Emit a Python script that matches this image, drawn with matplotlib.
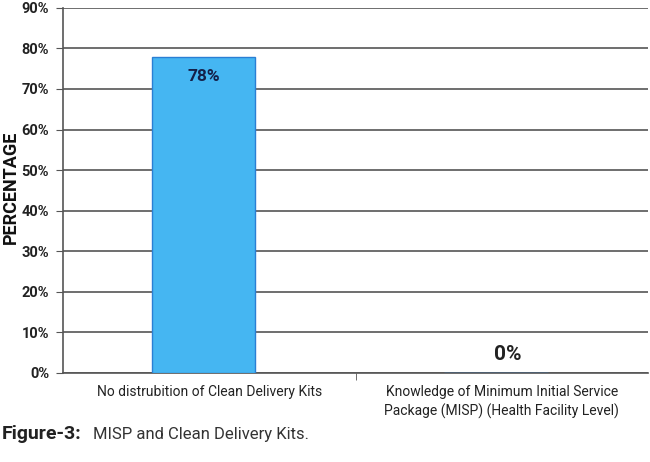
import matplotlib
matplotlib.use("Agg")
import matplotlib.pyplot as plt
import numpy as np

# data
categories = ["No distrubition of Clean Delivery Kits",
              "Knowledge of Minimum Initial Service\nPackage (MISP) (Health Facility Level)"]
values = [78, 0]
bar_labels = ["78%", "0%"]
yticks = [0, 10, 20, 30, 40, 50, 60, 70, 80, 90]

plt.rcParams['font.family'] = ['Roboto', 'DejaVu Sans']

fig = plt.figure(figsize=(6.5, 4.62), dpi=100)
ax = fig.add_axes([0.097, 0.193, 0.9, 0.79])

x = np.arange(len(categories))
ax.bar(x - 0.02, values, width=0.355, color="#45B6F2", edgecolor="#2A7FD4", linewidth=1, zorder=3)

ax.set_xlim(-0.5, 1.5)
ax.set_ylim(0, 90)
ax.set_yticks(yticks)
ax.set_yticklabels([f"{t}%" for t in yticks], fontsize=10.5, fontweight="bold", color="#222222")
ax.yaxis.grid(True, color="#555555", linewidth=1.2, zorder=0)
ax.set_xticks([0.5], minor=True)
ax.set_xticks(x)
ax.set_xticklabels(categories, fontsize=10, color="#222222", linespacing=1.35)
ax.tick_params(axis="x", which="major", length=0, pad=9)
ax.tick_params(axis="x", which="minor", length=5, color="#555555")
ax.tick_params(axis="y", length=5, color="#555555", pad=5)

for s in ["top", "right"]:
    ax.spines[s].set_visible(False)
ax.spines["left"].set_color("#555555")
ax.spines["bottom"].set_color("#555555")
ax.spines["left"].set_linewidth(1.2)
ax.spines["bottom"].set_linewidth(1.2)

ax.text(x[0] - 0.02, 73, bar_labels[0], ha="center", va="center",
        fontsize=12.5, fontweight="bold", color="#14204A", zorder=4)
ax.text(x[1] + 0.02, 4.5, bar_labels[1], ha="center", va="center",
        fontsize=15, fontweight="bold", color="#222222", zorder=4)

fig.text(0.016, 0.595, "PERCENTAGE", rotation=90, ha="center", va="center",
         fontsize=13, fontweight="bold", color="#111111")

fig.text(0.003, 0.05, "Figure-3:", fontsize=14, fontweight="bold", color="#222222")
fig.text(0.143, 0.05, "MISP and Clean Delivery Kits.", fontsize=12, color="#333333")

fig.savefig("out.png", dpi=100)
